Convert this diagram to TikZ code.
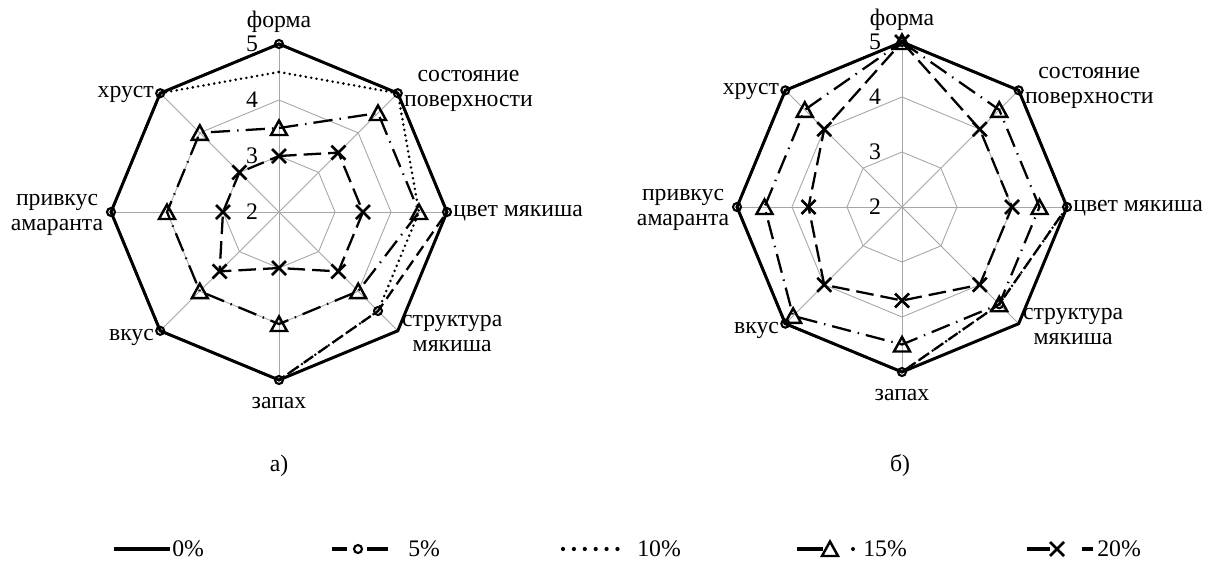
\documentclass[tikz,border=0pt]{standalone}
\usepackage{fontspec}
\setmainfont{Liberation Serif}
\usetikzlibrary{positioning}

\tikzset{
    lbl/.style={inner sep=0pt, align=center, font=\fontsize{13.5}{14.2}\selectfont},
    grid line/.style={draw=black!35, line width=0.5pt},
    s0/.style={line width=1.7pt},
    s5/.style={line width=1.3pt, dash pattern=on 6.5pt off 3.5pt},
    s10/.style={line width=1.6pt, line cap=round, dash pattern=on 0pt off 3.1pt},
    s15/.style={line width=1.3pt, dash pattern=on 11pt off 4pt on 0.8pt off 4pt},
    s20/.style={line width=1.3pt, dash pattern=on 10pt off 4pt},
    legline/.style={line width=2.4pt},
    legdots/.style={line width=2.4pt, line cap=round, dash pattern=on 0pt off 6.2pt},
    nomark/.pic={},
    circ/.pic={\draw[solid, line width=1.2pt] (0,0) circle (0.08);},
    tri/.pic={\draw[solid, line width=1.4pt] (-0.16,-0.14) -- (0.16,-0.14) -- (0,0.15) -- cycle;},
    cross/.pic={\draw[solid, line width=1.5pt] (-0.14,-0.14) -- (0.14,0.14) (-0.14,0.14) -- (0.14,-0.14);}
}

% #1 step, #2 suffix
\newcommand{\radargrid}[2]{%
    \foreach \a in {90,45,...,-225}
        \draw[grid line] (0,0) -- (\a:{3*#1});
    \foreach \r in {1,2,3}
        \draw[grid line] (90:{\r*#1}) \foreach \a in {45,0,...,-225}{-- (\a:{\r*#1})} -- cycle;
    \foreach \v in {2,...,5}
        \node[lbl] (tick#2\v) at (-0.54,{(\v-2)*#1}) {\v};
}

% #1 radius, #2 suffix
\newcommand{\radarlabels}[2]{%
    \node[lbl, anchor=south, yshift=0.22cm] (forma#2) at (90:#1) {форма};
    \node[lbl, anchor=west, xshift=0.12cm, yshift=0.05cm] (surf#2) at (45:#1) {состояние\\поверхности};
    \node[lbl, anchor=mid west, xshift=0.12cm] (color#2) at (0:#1) {цвет мякиша};
    \node[lbl, anchor=west, xshift=0.08cm, yshift=-0.06cm] (struct#2) at (-45:#1) {структура\\мякиша};
    \node[lbl, anchor=north, yshift=-0.33cm] (smell#2) at (-90:#1) {запах};
    \node[lbl, anchor=mid east, xshift=-0.12cm, yshift=-0.12cm] (taste#2) at (-135:#1) {вкус};
    \node[lbl, anchor=east, xshift=-0.15cm, yshift=-0.06cm] (after#2) at (180:#1) {привкус\\амаранта};
    \node[lbl, anchor=mid east, xshift=-0.12cm] (crunch#2) at (135:#1) {хруст};
}

% #1 style, #2 marker, #3 step, #4 values
\newcommand{\radarseries}[4]{%
    \foreach \v [count=\i] in {#4}
        \coordinate (p\i) at ({90-45*(\i-1)}:{(\v-2)*#3});
    \draw[#1] (p1) \foreach \i in {2,...,8}{-- (p\i)} -- cycle;
    \foreach \i in {1,...,8}
        \pic at (p\i) {#2};
}

\begin{document}
\begin{tikzpicture}
    \useasboundingbox (0,0) rectangle (24.16,-11.22);

    \begin{scope}[shift={(5.58,-4.24)}]
        \radargrid{1.12}{a}
        \radarlabels{3.36}{a}
        \radarseries{s0}{nomark}{1.12}{5,5,5,5,5,5,5,5}
        \radarseries{s5}{circ}{1.12}{5,5,5,4.5,5,5,5,5}
        \radarseries{s10}{nomark}{1.12}{4.5,5,4.5,4.5,5,5,5,5}
        \radarseries{s15}{tri}{1.12}{3.5,4.5,4.5,4,4,4,4,4}
        \radarseries{s20}{cross}{1.12}{3,3.5,3.5,3.5,3,3.5,3,3}
    \end{scope}

    \begin{scope}[shift={(18.04,-4.14)}]
        \radargrid{1.10}{b}
        \radarlabels{3.30}{b}
        \radarseries{s0}{nomark}{1.10}{5,5,5,5,5,5,5,5}
        \radarseries{s5}{circ}{1.10}{5,5,5,4.5,5,5,5,5}
        \radarseries{s10}{nomark}{1.10}{5,5,5,4.5,5,5,5,5}
        \radarseries{s15}{tri}{1.10}{5,4.5,4.5,4.5,4.5,4.8,4.5,4.5}
        \radarseries{s20}{cross}{1.10}{5,4,4,4,3.7,4,3.7,4}
    \end{scope}

    \node[lbl] (capa) at (5.58,-9.32) {а)};
    \node[lbl] (capb) at (18.00,-9.32) {б)};

    \coordinate (l0a) at (2.28,-10.98);
    \coordinate (l0b) at (3.40,-10.98);
    \draw[legline] (l0a) -- (l0b);
    \node[lbl, right=0.04cm of l0b] (t0) {0\%};

    \coordinate (l5a) at (6.64,-10.98);
    \coordinate (l5b) at (7.76,-10.98);
    \draw[legline] (l5a) -- (6.94,-10.98) (7.34,-10.98) -- (l5b);
    \pic at (7.16,-10.98) {circ};
    \node[lbl, right=0.40cm of l5b] (t5) {5\%};

    \coordinate (l10a) at (11.26,-10.98);
    \coordinate (l10b) at (12.40,-10.98);
    \draw[legdots] (l10a) -- (l10b);
    \node[lbl, right=0.34cm of l10b] (t10) {10\%};

    \coordinate (l15a) at (15.94,-10.98);
    \coordinate (l15b) at (17.06,-10.98);
    \draw[legline] (l15a) -- (16.46,-10.98);
    \pic at (16.60,-10.98) {tri};
    \fill (l15b) circle (0.04);
    \node[lbl, right=0.20cm of l15b] (t15) {15\%};

    \coordinate (l20a) at (20.54,-10.98);
    \coordinate (l20b) at (21.86,-10.98);
    \draw[legline] (l20a) -- (21.00,-10.98) (21.64,-10.98) -- (l20b);
    \pic at (21.14,-10.98) {cross};
    \node[lbl, right=0.08cm of l20b] (t20) {20\%};
\end{tikzpicture}
\end{document}
